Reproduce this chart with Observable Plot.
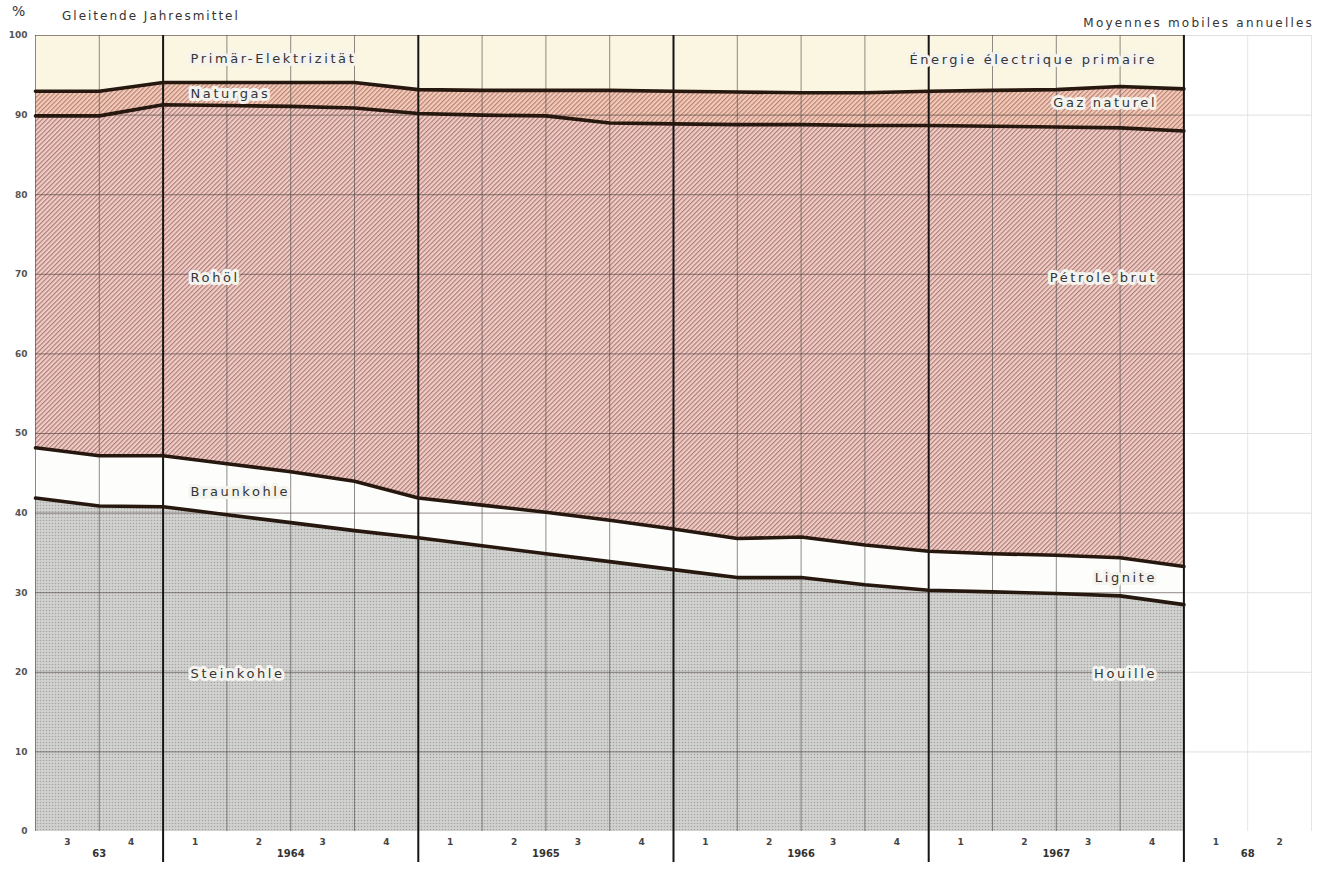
<!DOCTYPE html>
<html><head><meta charset="utf-8">
<script src="https://cdn.jsdelivr.net/npm/d3@7"></script>
<script src="https://cdn.jsdelivr.net/npm/@observablehq/plot@0.6"></script>
<style>
body{margin:0;background:#fff;font-family:"DejaVu Sans",sans-serif;}
#head{position:relative;height:30px;width:1330px;}
#head span{position:absolute;font-size:12px;color:#333;white-space:nowrap;line-height:14px}
#chart svg{display:block}
</style></head><body>
<div id="head">
  <span style="left:12px;top:4px;font-size:14px">%</span>
  <span style="left:62px;top:9px;letter-spacing:2px">Gleitende Jahresmittel</span>
  <span style="right:16px;top:16px;letter-spacing:2.2px">Moyennes mobiles annuelles</span>
</div>
<div id="chart"></div>
<script>
// End-of-quarter observation points (moving annual averages)
const periods = ["1963 Q2","1963 Q3","1963 Q4","1964 Q1","1964 Q2","1964 Q3","1964 Q4","1965 Q1","1965 Q2","1965 Q3","1965 Q4","1966 Q1","1966 Q2","1966 Q3","1966 Q4","1967 Q1","1967 Q2","1967 Q3","1967 Q4"];

// Shares in % (bottom to top)
const steinkohle    = [41.9, 40.9, 40.8, 39.8, 38.8, 37.8, 36.9, 35.9, 34.9, 33.9, 32.9, 31.9, 31.9, 31.0, 30.3, 30.1, 29.9, 29.6, 28.5];
const braunkohle    = [6.3, 6.3, 6.4, 6.4, 6.4, 6.2, 5.0, 5.1, 5.2, 5.2, 5.1, 4.9, 5.1, 5.0, 4.9, 4.8, 4.8, 4.8, 4.8];
const rohoel        = [41.7, 42.7, 44.1, 45.0, 45.9, 46.9, 48.3, 49.0, 49.8, 49.9, 50.9, 52.0, 51.8, 52.7, 53.5, 53.7, 53.8, 54.0, 54.7];
const naturgas      = [3.1, 3.1, 2.8, 2.9, 3.0, 3.2, 3.0, 3.1, 3.2, 4.1, 4.1, 4.1, 4.0, 4.1, 4.3, 4.5, 4.7, 5.2, 5.3];
const elektrizitaet = [7.0, 7.0, 5.9, 5.9, 5.9, 5.9, 6.8, 6.9, 6.9, 6.9, 7.0, 7.1, 7.2, 7.2, 7.0, 6.9, 6.8, 6.4, 6.7];

const sourceNames = ["Steinkohle","Braunkohle","Rohöl","Naturgas","Primär-Elektrizität"];
const sourceNamesFr = ["Houille","Lignite","Pétrole brut","Gaz naturel","Énergie électrique primaire"];

// Axis tick labels
const yTicks = [0,10,20,30,40,50,60,70,80,90,100];
const quarterLabels = ["3","4","1","2","3","4","1","2","3","4","1","2","3","4","1","2","3","4","1","2"];
const yearLabels = ["63","1964","1965","1966","1967","68"];

// ---- layout / styling (not data) ----
const yearCenters = [1, 4, 8, 12, 16, 19];
const yearBounds = [2, 6, 10, 14, 18];
const fills = ["url(#stein)", "#fdfdfb", "url(#hatchR)", "url(#hatchN)", "#fbf6e2"];
const labelLeft = [ {t:2.43, y:19.8}, {t:2.43, y:42.7}, {t:2.43, y:69.5}, {t:2.43, y:92.7}, {t:2.43, y:97.1} ];
const labelRight = [ {t:17.58, y:19.8}, {t:17.58, y:31.9}, {t:17.58, y:69.6}, {t:17.58, y:91.6}, {t:17.58, y:96.9} ];

const series = [steinkohle, braunkohle, rohoel, naturgas, elektrizitaet];
let base = periods.map(() => 0);
const layers = series.map((vals, k) => {
  const rows = periods.map((p, i) => ({t: i, period: p, y1: base[i], y2: base[i] + vals[i]}));
  base = rows.map(r => r.y2);
  return {name: sourceNames[k], rows};
});

const allT = d3.range(0, 21);
const quarterLines = allT.filter(t => t <= 18 && !yearBounds.includes(t));
const emptyLines = allT.filter(t => t > 18);

const leftLabelData = sourceNames.map((n, k) => ({text: n, ...labelLeft[k]}));
const rightLabelData = sourceNamesFr.map((n, k) => ({text: n, ...labelRight[k]}));

const svg = Plot.plot({
  width: 1330, height: 841,
  marginLeft: 35, marginRight: 19, marginTop: 5, marginBottom: 40,
  x: {domain: [0, 20], axis: null},
  y: {domain: [0, 100], axis: null},
  style: {fontFamily: "DejaVu Sans, sans-serif", background: "white", overflow: "visible"},
  marks: [
    ...layers.map((L, k) => Plot.areaY(L.rows, {x: "t", y1: "y1", y2: "y2", fill: fills[k]})),
    // horizontal grid
    Plot.ruleY(yTicks.filter(v => v > 0), {x1: 0, x2: 18, stroke: "#4a3c3c", strokeWidth: 0.8, strokeOpacity: 0.75}),
    Plot.ruleY(yTicks.filter(v => v > 0), {x1: 18, x2: 20, stroke: "#d8d8d8", strokeWidth: 0.8}),
    // vertical quarter lines
    Plot.ruleX(quarterLines, {y1: 0, y2: 100, stroke: "#4a4a4a", strokeWidth: 0.8, strokeOpacity: 0.8}),
    Plot.ruleX(emptyLines, {y1: 0, y2: 100, stroke: "#dedede", strokeWidth: 0.8}),
    // year boundaries
    Plot.ruleX(yearBounds, {y1: -3.9, y2: 100, stroke: "#151515", strokeWidth: 2}),
    // boundary lines
    ...layers.slice(0, 4).map(L => Plot.lineY(L.rows, {x: "t", y: "y2", stroke: "#26180f", strokeWidth: 3.6, strokeLinejoin: "round"})),
    // band labels
    Plot.text(leftLabelData, {x: "t", y: "y", text: "text", textAnchor: "start", fontSize: 13, fill: "#353535", stroke: "#f4f3ee", strokeWidth: 6}),
    Plot.text(rightLabelData, {x: "t", y: "y", text: "text", textAnchor: "end", fontSize: 13, fill: "#353535", stroke: "#f4f3ee", strokeWidth: 6}),
    // y tick labels
    Plot.text(yTicks, {x: 0, y: d => d, text: d => String(d), textAnchor: "end", dx: -8, fontSize: 9, fontWeight: "bold", fill: "#555"}),
    // x labels
    Plot.text(quarterLabels, {x: (d, i) => i + 0.5, text: d => d, frameAnchor: "bottom", dy: 13, fontSize: 9, fontWeight: "bold", fill: "#444"}),
    Plot.text(yearLabels, {x: (d, i) => yearCenters[i], text: d => d, frameAnchor: "bottom", dy: 25, fontSize: 10, fontWeight: "bold", fill: "#333"})
  ]
});

const defs = d3.select(svg).insert("defs", ":first-child");
function hatch(id, bg, line) {
  const s = 3.3;
  const p = defs.append("pattern").attr("id", id).attr("patternUnits", "userSpaceOnUse")
    .attr("width", s).attr("height", s).attr("patternTransform", "rotate(45)");
  p.append("rect").attr("width", s).attr("height", s).attr("fill", bg);
  p.append("line").attr("x1", 0.6).attr("y1", 0).attr("x2", 0.6).attr("y2", s).attr("stroke", line).attr("stroke-width", 1.0);
}
hatch("hatchR", "#efcec7", "#a8706b");
hatch("hatchN", "#f3cbbb", "#b07766");
{
  const p = defs.append("pattern").attr("id", "stein").attr("patternUnits", "userSpaceOnUse").attr("width", 3).attr("height", 3);
  p.append("rect").attr("width", 3).attr("height", 3).attr("fill", "#d2d2d0");
  p.append("circle").attr("cx", 1.5).attr("cy", 1.5).attr("r", 0.8).attr("fill", "#a4a4a2");
}
const labelSet = new Set([...sourceNames, ...sourceNamesFr]);
d3.select(svg).selectAll("text").filter(function() { return labelSet.has(this.textContent); }).attr("letter-spacing", "2.6px");

document.getElementById("chart").appendChild(svg);
</script>
</body></html>
